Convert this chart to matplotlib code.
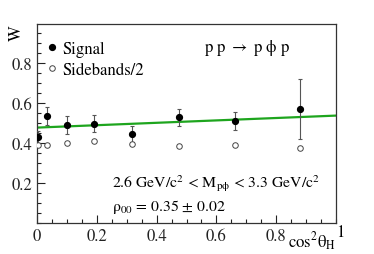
import matplotlib
matplotlib.use("Agg")
from matplotlib import pyplot as plt
from matplotlib.ticker import MultipleLocator
import numpy as np

plt.rcParams['font.family'] = ['STIXGeneral', 'DejaVu Serif']
plt.rcParams['mathtext.fontset'] = 'stix'

# cos^2(theta_H) bins
xSig = [0.005, 0.035, 0.1, 0.19, 0.317, 0.475, 0.661, 0.88]
ySig = [0.43, 0.533, 0.49, 0.497, 0.447, 0.528, 0.512, 0.57]
eSig = [0.03, 0.045, 0.043, 0.043, 0.04, 0.042, 0.045, 0.15]
xSide = [0.005, 0.035, 0.1, 0.19, 0.317, 0.475, 0.661, 0.88]
ySide = [0.39, 0.39, 0.40, 0.408, 0.397, 0.383, 0.392, 0.373]
eSide = [0.008, 0.008, 0.008, 0.008, 0.008, 0.008, 0.008, 0.008]
fitX = [0.0, 1.0]
fitY = [0.477, 0.537]

fig = plt.figure(figsize=(3.74, 2.55), dpi=100)
ax = fig.add_axes([37/374, 1-224/255, 299/374, 199/255])

ax.plot(fitX, fitY, color='#1ea51e', lw=1.6, zorder=2)
sig = ax.errorbar(xSig, ySig, yerr=eSig, fmt='o', color='black', ms=4.2,
                  ecolor='#555555', elinewidth=0.8, capsize=1.5, capthick=0.8,
                  zorder=3)
side = ax.errorbar(xSide, ySide, yerr=eSide, fmt='o', mfc='white', mec='#444444',
                   mew=0.7, ms=4, ecolor='#444444', elinewidth=0.7, capsize=0,
                   zorder=3)

ax.set_xlim(0, 1)
ax.set_ylim(0, 0.995)
ax.xaxis.set_minor_locator(MultipleLocator(0.05))
ax.yaxis.set_minor_locator(MultipleLocator(0.05))
ax.set_yticks([0.2, 0.4, 0.6, 0.8])
ax.set_yticklabels(['0.2', '0.4', '0.6', '0.8'])
ax.set_xticks([0, 0.2, 0.4, 0.6, 0.8])
ax.set_xticklabels(['0', '0.2', '0.4', '0.6', '0.8'])
ax.tick_params(which='both', direction='in', top=False, right=False,
               labelsize=12, colors='#222222', width=0.8)
ax.tick_params(which='major', length=6)
ax.tick_params(which='minor', length=3)
for s in ax.spines.values():
    s.set_linewidth(0.9)
    s.set_color('#333333')

ax.legend([sig.lines[0], side.lines[0]], ['Signal', 'Sidebands/2'],
          loc='upper left', bbox_to_anchor=(0.0, 0.965), frameon=False,
          fontsize=12, handlelength=0.6, handletextpad=0.3,
          labelspacing=0.3, borderaxespad=0.2)

ax.text(0.56, 0.885, r'p p $\rightarrow$ p $\mathrm{\phi}$ p', transform=ax.transAxes,
        fontsize=12, ha='left', va='center')
ax.text(0.25, 0.205, r'2.6 GeV/c$^2$ < M$_{\mathrm{p\phi}}$ < 3.3 GeV/c$^2$',
        transform=ax.transAxes, fontsize=11.3, ha='left', va='center')
ax.text(0.25, 0.085, r'$\mathrm{\rho}_{00}$ = 0.35 $\pm$ 0.02',
        transform=ax.transAxes, fontsize=11.3, ha='left', va='center')

fig.text(336/374, 1-253/255, r'cos$^2\mathrm{\theta}_{\mathrm{H}}$', fontsize=12,
         ha='right', va='bottom')
fig.text(336/374, 1-241/255, '1', fontsize=12, ha='left', va='bottom')
fig.text(17/374, 1-25/255, 'W', fontsize=12, rotation=90, ha='center', va='top')

plt.savefig("out.png", dpi=100)
